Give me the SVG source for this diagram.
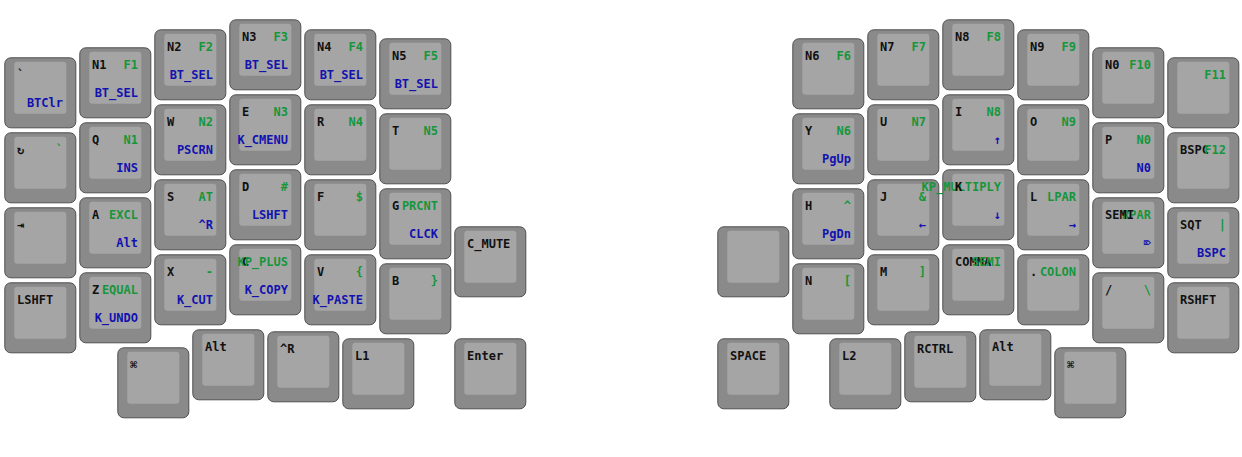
<svg xmlns="http://www.w3.org/2000/svg" width="1242" height="457" viewBox="0 0 1242 457">
<style>
.o{fill:#8a8a8a;stroke:#4f4f4f;stroke-width:1}
.i{fill:#a5a5a5}
text{font-family:"DejaVu Sans Mono","Liberation Mono",monospace;font-weight:bold;font-size:12px}
.t{fill:#111}
.g{fill:#16963a;text-anchor:end}
.b{fill:#1212b0;text-anchor:end}
</style>
<defs>
<g id="key"><rect class="o" x="0.8" y="0.8" width="71" height="70" rx="6"/><rect class="i" x="10.3" y="4.8" width="52" height="52" rx="3"/></g>
</defs>
<rect width="1242" height="457" fill="#fff"/>
<g id="left">
<g id="k_grv" transform="translate(4,57)"><use href="#key"/><text class="t" x="13" y="22">`</text><text class="b" x="59" y="50">BTClr</text></g>
<g id="k_rot" transform="translate(4,132)"><use href="#key"/><text class="t" x="13" y="22">↻</text><text class="g" x="59" y="22">`</text></g>
<g id="k_tab" transform="translate(4,207)"><use href="#key"/><text class="t" x="13" y="22">⇥</text></g>
<g id="k_lshft" transform="translate(4,282)"><use href="#key"/><text class="t" x="13" y="22">LSHFT</text></g>

<g id="k_n1" transform="translate(79,47)"><use href="#key"/><text class="t" x="13" y="22">N1</text><text class="g" x="59" y="22">F1</text><text class="b" x="59" y="50">BT_SEL</text></g>
<g id="k_q" transform="translate(79,122)"><use href="#key"/><text class="t" x="13" y="22">Q</text><text class="g" x="59" y="22">N1</text><text class="b" x="59" y="50">INS</text></g>
<g id="k_a" transform="translate(79,197)"><use href="#key"/><text class="t" x="13" y="22">A</text><text class="g" x="59" y="22">EXCL</text><text class="b" x="59" y="50">Alt</text></g>
<g id="k_z" transform="translate(79,272)"><use href="#key"/><text class="t" x="13" y="22">Z</text><text class="g" x="59" y="22">EQUAL</text><text class="b" x="59" y="50">K_UNDO</text></g>

<g id="k_n2" transform="translate(154,29)"><use href="#key"/><text class="t" x="13" y="22">N2</text><text class="g" x="59" y="22">F2</text><text class="b" x="59" y="50">BT_SEL</text></g>
<g id="k_w" transform="translate(154,104)"><use href="#key"/><text class="t" x="13" y="22">W</text><text class="g" x="59" y="22">N2</text><text class="b" x="59" y="50">PSCRN</text></g>
<g id="k_s" transform="translate(154,179)"><use href="#key"/><text class="t" x="13" y="22">S</text><text class="g" x="59" y="22">AT</text><text class="b" x="59" y="50">^R</text></g>
<g id="k_x" transform="translate(154,254)"><use href="#key"/><text class="t" x="13" y="22">X</text><text class="g" x="59" y="22">-</text><text class="b" x="59" y="50">K_CUT</text></g>

<g id="k_n3" transform="translate(229,19)"><use href="#key"/><text class="t" x="13" y="22">N3</text><text class="g" x="59" y="22">F3</text><text class="b" x="59" y="50">BT_SEL</text></g>
<g id="k_e" transform="translate(229,94)"><use href="#key"/><text class="t" x="13" y="22">E</text><text class="g" x="59" y="22">N3</text><text class="b" x="59" y="50">K_CMENU</text></g>
<g id="k_d" transform="translate(229,169)"><use href="#key"/><text class="t" x="13" y="22">D</text><text class="g" x="59" y="22">#</text><text class="b" x="59" y="50">LSHFT</text></g>
<g id="k_c" transform="translate(229,244)"><use href="#key"/><text class="t" x="13" y="22">C</text><text class="g" x="59" y="22">KP_PLUS</text><text class="b" x="59" y="50">K_COPY</text></g>

<g id="k_n4" transform="translate(304,29)"><use href="#key"/><text class="t" x="13" y="22">N4</text><text class="g" x="59" y="22">F4</text><text class="b" x="59" y="50">BT_SEL</text></g>
<g id="k_r" transform="translate(304,104)"><use href="#key"/><text class="t" x="13" y="22">R</text><text class="g" x="59" y="22">N4</text></g>
<g id="k_f" transform="translate(304,179)"><use href="#key"/><text class="t" x="13" y="22">F</text><text class="g" x="59" y="22">$</text></g>
<g id="k_v" transform="translate(304,254)"><use href="#key"/><text class="t" x="13" y="22">V</text><text class="g" x="59" y="22">{</text><text class="b" x="59" y="50">K_PASTE</text></g>

<g id="k_n5" transform="translate(379,38)"><use href="#key"/><text class="t" x="13" y="22">N5</text><text class="g" x="59" y="22">F5</text><text class="b" x="59" y="50">BT_SEL</text></g>
<g id="k_t" transform="translate(379,113)"><use href="#key"/><text class="t" x="13" y="22">T</text><text class="g" x="59" y="22">N5</text></g>
<g id="k_g" transform="translate(379,188)"><use href="#key"/><text class="t" x="13" y="22">G</text><text class="g" x="59" y="22">PRCNT</text><text class="b" x="59" y="50">CLCK</text></g>
<g id="k_b" transform="translate(379,263)"><use href="#key"/><text class="t" x="13" y="22">B</text><text class="g" x="59" y="22">}</text></g>

<g id="k_cmute" transform="translate(454,226)"><use href="#key"/><text class="t" x="13" y="22">C_MUTE</text></g>
<g id="k_lcmd" transform="translate(117,347)"><use href="#key"/><text class="t" x="13" y="22">⌘</text></g>
<g id="k_lalt" transform="translate(192,329)"><use href="#key"/><text class="t" x="13" y="22">Alt</text></g>
<g id="k_lctl" transform="translate(267,331)"><use href="#key"/><text class="t" x="13" y="22">^R</text></g>
<g id="k_l1" transform="translate(342,338)"><use href="#key"/><text class="t" x="13" y="22">L1</text></g>
<g id="k_enter" transform="translate(454,338)"><use href="#key"/><text class="t" x="13" y="22">Enter</text></g>
</g>
<g id="right">
<g id="k_n6" transform="translate(792,38)"><use href="#key"/><text class="t" x="13" y="22">N6</text><text class="g" x="59" y="22">F6</text></g>
<g id="k_y" transform="translate(792,113)"><use href="#key"/><text class="t" x="13" y="22">Y</text><text class="g" x="59" y="22">N6</text><text class="b" x="59" y="50">PgUp</text></g>
<g id="k_h" transform="translate(792,188)"><use href="#key"/><text class="t" x="13" y="22">H</text><text class="g" x="59" y="22">^</text><text class="b" x="59" y="50">PgDn</text></g>
<g id="k_n" transform="translate(792,263)"><use href="#key"/><text class="t" x="13" y="22">N</text><text class="g" x="59" y="22">[</text></g>

<g id="k_n7" transform="translate(867,29)"><use href="#key"/><text class="t" x="13" y="22">N7</text><text class="g" x="59" y="22">F7</text></g>
<g id="k_u" transform="translate(867,104)"><use href="#key"/><text class="t" x="13" y="22">U</text><text class="g" x="59" y="22">N7</text></g>
<g id="k_j" transform="translate(867,179)"><use href="#key"/><text class="t" x="13" y="22">J</text><text class="g" x="59" y="22">&amp;</text><text class="b" x="59" y="50">←</text></g>
<g id="k_m" transform="translate(867,254)"><use href="#key"/><text class="t" x="13" y="22">M</text><text class="g" x="59" y="22">]</text></g>

<g id="k_n8" transform="translate(942,19)"><use href="#key"/><text class="t" x="13" y="22">N8</text><text class="g" x="59" y="22">F8</text></g>
<g id="k_i" transform="translate(942,94)"><use href="#key"/><text class="t" x="13" y="22">I</text><text class="g" x="59" y="22">N8</text><text class="b" x="59" y="50">↑</text></g>
<g id="k_k" transform="translate(942,169)"><use href="#key"/><text class="g" x="59" y="22">KP_MULTIPLY</text><text class="t" x="13" y="22">K</text><text class="b" x="59" y="50">↓</text></g>
<g id="k_comma" transform="translate(942,244)"><use href="#key"/><text class="t" x="13" y="22">COMMA</text><text class="g" x="59" y="22">SEMI</text></g>

<g id="k_n9" transform="translate(1017,29)"><use href="#key"/><text class="t" x="13" y="22">N9</text><text class="g" x="59" y="22">F9</text></g>
<g id="k_o" transform="translate(1017,104)"><use href="#key"/><text class="t" x="13" y="22">O</text><text class="g" x="59" y="22">N9</text></g>
<g id="k_l" transform="translate(1017,179)"><use href="#key"/><text class="t" x="13" y="22">L</text><text class="g" x="59" y="22">LPAR</text><text class="b" x="59" y="50">→</text></g>
<g id="k_dot" transform="translate(1017,254)"><use href="#key"/><text class="t" x="13" y="22">.</text><text class="g" x="59" y="22">COLON</text></g>

<g id="k_n0" transform="translate(1092,47)"><use href="#key"/><text class="t" x="13" y="22">N0</text><text class="g" x="59" y="22">F10</text></g>
<g id="k_p" transform="translate(1092,122)"><use href="#key"/><text class="t" x="13" y="22">P</text><text class="g" x="59" y="22">N0</text><text class="b" x="59" y="50">N0</text></g>
<g id="k_semi" transform="translate(1092,197)"><use href="#key"/><text class="g" x="59" y="22">RPAR</text><text class="t" x="13" y="22">SEMI</text><text class="b" x="59" y="50">⌦</text></g>
<g id="k_slash" transform="translate(1092,272)"><use href="#key"/><text class="t" x="13" y="22">/</text><text class="g" x="59" y="22">\</text></g>

<g id="k_f11" transform="translate(1167,57)"><use href="#key"/><text class="g" x="59" y="22">F11</text></g>
<g id="k_bspc" transform="translate(1167,132)"><use href="#key"/><text class="t" x="13" y="22">BSPC</text><text class="g" x="59" y="22">F12</text></g>
<g id="k_sqt" transform="translate(1167,207)"><use href="#key"/><text class="t" x="13" y="22">SQT</text><text class="g" x="59" y="22">|</text><text class="b" x="59" y="50">BSPC</text></g>
<g id="k_rshft" transform="translate(1167,282)"><use href="#key"/><text class="t" x="13" y="22">RSHFT</text></g>

<g id="k_blank" transform="translate(717,226)"><use href="#key"/></g>
<g id="k_space" transform="translate(717,338)"><use href="#key"/><text class="t" x="13" y="22">SPACE</text></g>
<g id="k_l2" transform="translate(829,338)"><use href="#key"/><text class="t" x="13" y="22">L2</text></g>
<g id="k_rctrl" transform="translate(904,331)"><use href="#key"/><text class="t" x="13" y="22">RCTRL</text></g>
<g id="k_ralt" transform="translate(979,329)"><use href="#key"/><text class="t" x="13" y="22">Alt</text></g>
<g id="k_rcmd" transform="translate(1054,347)"><use href="#key"/><text class="t" x="13" y="22">⌘</text></g>
</g>
<g id="connectors"/>
</svg>
